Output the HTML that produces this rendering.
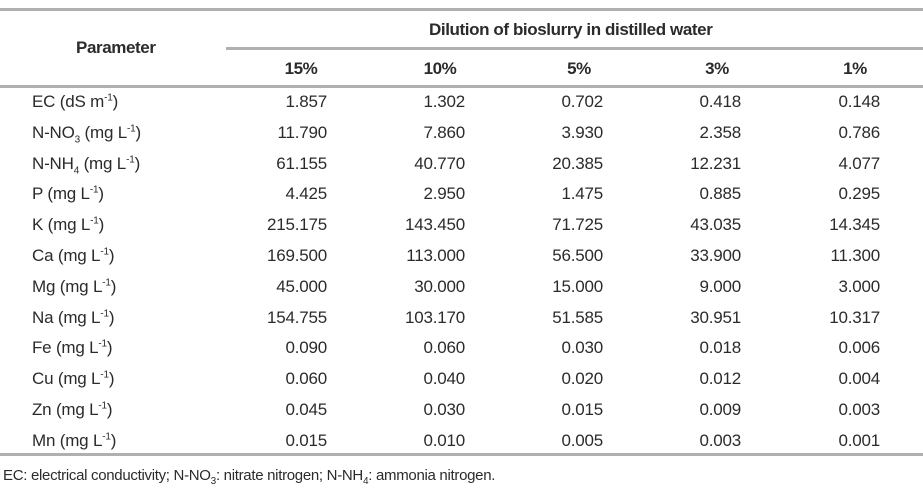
<!DOCTYPE html>
<html><head><meta charset="utf-8"><style>
body{margin:0;width:923px;height:493px;background:#fff;position:relative;overflow:hidden;font-family:"Liberation Sans Narrow","Liberation Sans",sans-serif;color:#2b2b2b;font-size:17px;letter-spacing:-0.2px}
.l{position:absolute;background:#b0b0b0}
.t{position:absolute;white-space:nowrap;line-height:20px}
.h{font-weight:bold;letter-spacing:-0.4px}
.r{text-align:right;width:120px}
.c{text-align:center;width:120px}
sub,sup{font-size:10px;line-height:0}
</style></head><body>
<div class="l" style="left:0;top:8px;width:923px;height:3px"></div>
<div class="l" style="left:226px;top:47px;width:697px;height:3px"></div>
<div class="l" style="left:0;top:85px;width:923px;height:3px"></div>
<div class="l" style="left:0;top:453px;width:923px;height:3px"></div>
<div class="t h" style="left:76px;top:38px">Parameter</div>
<div class="t h" style="left:429px;top:20px">Dilution of bioslurry in distilled water</div>
<div id="tbl"></div>
<div class="t" style="left:3px;top:466px;font-size:15px;letter-spacing:-0.3px">EC: electrical conductivity; N-NO<sub>3</sub>: nitrate nitrogen; N-NH<sub>4</sub>: ammonia nitrogen.</div>
<script>
const cols=["15%","10%","5%","3%","1%"];
const params=["EC (dS m<sup>-1</sup>)","N-NO<sub>3</sub> (mg L<sup>-1</sup>)","N-NH<sub>4</sub> (mg L<sup>-1</sup>)","P (mg L<sup>-1</sup>)","K (mg L<sup>-1</sup>)","Ca (mg L<sup>-1</sup>)","Mg (mg L<sup>-1</sup>)","Na (mg L<sup>-1</sup>)","Fe (mg L<sup>-1</sup>)","Cu (mg L<sup>-1</sup>)","Zn (mg L<sup>-1</sup>)","Mn (mg L<sup>-1</sup>)"];
const values=[
["1.857","1.302","0.702","0.418","0.148"],
["11.790","7.860","3.930","2.358","0.786"],
["61.155","40.770","20.385","12.231","4.077"],
["4.425","2.950","1.475","0.885","0.295"],
["215.175","143.450","71.725","43.035","14.345"],
["169.500","113.000","56.500","33.900","11.300"],
["45.000","30.000","15.000","9.000","3.000"],
["154.755","103.170","51.585","30.951","10.317"],
["0.090","0.060","0.030","0.018","0.006"],
["0.060","0.040","0.020","0.012","0.004"],
["0.045","0.030","0.015","0.009","0.003"],
["0.015","0.010","0.005","0.003","0.001"]];
const tbl=document.getElementById('tbl');
const colRight=[327,465,603,741,880], colCenter=[301,440,579,717,855];
cols.forEach((c,i)=>{const d=document.createElement('div');d.className='t h c';d.style.left=(colCenter[i]-60)+'px';d.style.top='59px';d.textContent=c;


tbl.appendChild(d);});
params.forEach((p,r)=>{const y=92+r*30.8;
const d=document.createElement('div');d.className='t';d.style.left='32px';d.style.top=y+'px';d.innerHTML=p;


tbl.appendChild(d);
values[r].forEach((v,i)=>{const e=document.createElement('div');e.className='t r';e.style.left=(colRight[i]-120)+'px';e.style.top=y+'px';e.textContent=v;


tbl.appendChild(e);});});
</script>
</body></html>
